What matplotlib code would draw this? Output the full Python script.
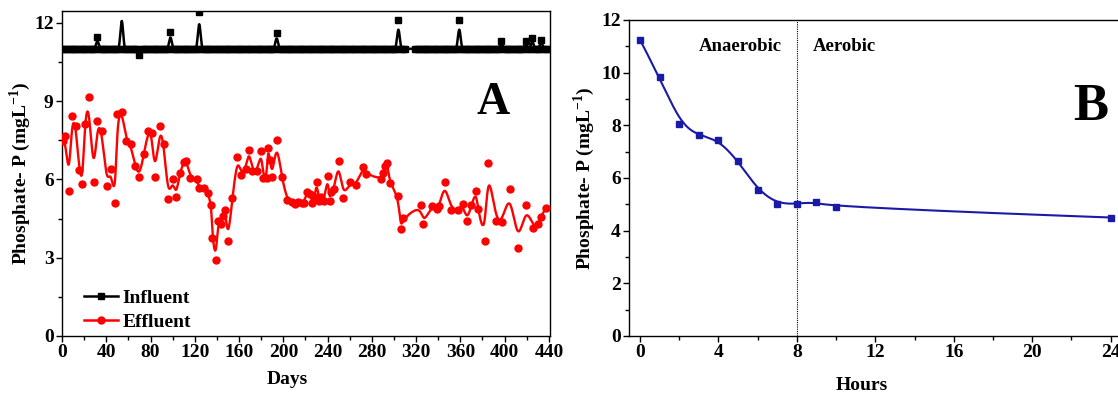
import numpy as np
import matplotlib
matplotlib.use("Agg")
import matplotlib.pyplot as plt
from matplotlib.ticker import MultipleLocator

plt.rcParams["font.family"] = ["Liberation Serif", "DejaVu Serif"]
plt.rcParams["font.weight"] = "bold"
plt.rcParams["mathtext.fontset"] = "custom"
plt.rcParams["mathtext.rm"] = "Liberation Serif:bold"
plt.rcParams["mathtext.bf"] = "Liberation Serif:bold"

# ---- Panel A: influent (sampling days, flat at 11.0 except the marked days) ----
influent_days = list(range(0, 311, 2)) + list(range(319, 440, 2))
influent_base = 11.0
influent_peak_days = [32, 54, 70, 98, 124, 194, 304, 359, 397, 419, 425, 433]
influent_peak_vals = [11.44, 12.6, 10.75, 11.65, 12.41, 11.6, 12.1, 12.1, 11.3, 11.3, 11.4, 11.35]

# ---- Panel A: effluent ----
effluent_days = [0.5, 3, 6, 9, 12.5, 15.5, 18.5, 20.5, 24, 28.5, 32, 36, 40.5, 44, 48, 50,
                 54.5, 58, 62, 66, 70, 74, 78, 81, 84, 88.5, 92, 96, 100, 103, 106.5, 110,
                 112.5, 116, 122, 124, 128, 132, 135, 136, 139, 141, 144, 145.5, 147.5, 150,
                 154, 158.5, 162, 166, 169, 172, 176.5, 180, 182, 185, 186, 188, 190, 194,
                 198.5, 203.5, 207.5, 210.5, 213.5, 216.5, 218.5, 221.5, 224, 226, 228.5, 230,
                 232.5, 234.5, 237, 240, 242, 243, 246, 250, 254, 260, 266, 272, 275, 288,
                 290, 292, 294, 296, 304, 306, 308.5, 324, 326.5, 334, 338.5, 341, 346, 351.5,
                 358, 362, 366, 370, 374, 376, 382, 385, 392, 398, 405, 412, 419, 426, 430.5,
                 432.5, 437]
effluent_vals = [7.45, 7.65, 5.56, 8.44, 8.06, 6.35, 5.81, 8.11, 9.17, 5.91, 8.22, 7.87, 5.75,
                 6.41, 5.08, 8.49, 8.58, 7.48, 7.35, 6.51, 6.10, 6.99, 7.84, 7.77, 6.10, 8.03,
                 7.35, 5.26, 6.00, 5.34, 6.25, 6.66, 6.72, 6.05, 6.00, 5.65, 5.66, 5.46, 5.01,
                 3.75, 2.90, 4.42, 4.29, 4.58, 4.84, 3.62, 5.30, 6.86, 6.17, 6.41, 7.14, 6.32,
                 6.32, 7.08, 6.06, 6.06, 7.22, 6.76, 6.09, 7.49, 6.09, 5.21, 5.14, 5.05, 5.14,
                 5.11, 5.11, 5.52, 5.43, 5.11, 5.34, 5.90, 5.18, 5.34, 5.18, 6.13, 5.18, 5.52,
                 5.62, 6.72, 5.30, 5.88, 5.77, 6.48, 6.21, 6.00, 6.23, 6.53, 6.63, 5.85, 5.37,
                 4.08, 4.51, 5.03, 4.28, 4.99, 4.86, 4.99, 5.88, 4.84, 4.84, 5.05, 4.42, 5.01,
                 5.54, 4.86, 3.65, 6.62, 4.39, 4.38, 5.62, 3.37, 5.01, 4.14, 4.28, 4.55, 4.89]

# ---- Panel B: one cycle ----
hours = [0, 1, 2, 3, 4, 5, 6, 7, 8, 9, 10, 24]
cycle_vals = [11.25, 9.82, 8.05, 7.62, 7.45, 6.65, 5.55, 5.02, 5.02, 5.10, 4.88, 4.50]

assert len(effluent_days) == len(effluent_vals)


def bspline(x, y, num=3000):
    """Clamped cubic B-spline using the points as control points (Origin style)."""
    P = np.column_stack([x, y]).astype(float)
    n, k = len(P), 3
    t = np.concatenate([np.zeros(k), np.arange(n - k + 1), np.full(k, n - k)])
    u = np.linspace(0, n - k, num)
    u[-1] -= 1e-9
    N = np.zeros((num, len(t) - 1))
    for i in range(len(t) - 1):
        N[:, i] = (t[i] <= u) & (u < t[i + 1])
    for d in range(1, k + 1):
        Nn = np.zeros((num, len(t) - 1 - d))
        for i in range(len(t) - 1 - d):
            acc = np.zeros(num)
            den1 = t[i + d] - t[i]
            if den1 > 0:
                acc += (u - t[i]) / den1 * N[:, i]
            den2 = t[i + d + 1] - t[i + 1]
            if den2 > 0:
                acc += (t[i + d + 1] - u) / den2 * N[:, i + 1]
            Nn[:, i] = acc
        N = Nn
    C = N @ P
    return C[:, 0], C[:, 1]


peaks = dict(zip(influent_peak_days, influent_peak_vals))
influent_vals = [peaks.get(d, influent_base) for d in influent_days]

W, H = 1118, 396
fig = plt.figure(figsize=(W / 100, H / 100), dpi=100)
# axes placed in pixel terms: left, bottom(from top), width, height
axA = fig.add_axes([62 / W, (H - 336) / H, 488 / W, 325.3 / H])
axB = fig.add_axes([629 / W, (H - 336) / H, 511 / W, 316 / H])

FS = 14
RED = "#ff0000"
BLUE = "#1a1aa8"

# panel A
xs, ys = bspline(influent_days, influent_vals, 6000)
axA.plot(xs, ys, color="black", lw=1.8, zorder=2)
axA.plot(influent_days, influent_vals, ls="none", marker="s", ms=5, color="black", zorder=3)
xs, ys = bspline(effluent_days, effluent_vals, 4000)
axA.plot(xs, ys, color=RED, lw=1.7, zorder=2)
axA.plot(effluent_days, effluent_vals, ls="none", marker="o", ms=5, color=RED, zorder=3)

axA.plot([], [], color="black", lw=1.8, marker="s", ms=4, label="Influent")
axA.plot([], [], color=RED, lw=1.8, marker="o", ms=5, label="Effluent")
axA.legend(loc="lower left", bbox_to_anchor=(0.045, 0.015), frameon=False,
           prop={"size": FS, "weight": "bold"}, handlelength=1.75,
           handletextpad=0.25, labelspacing=0.35, borderpad=0, borderaxespad=0)

axA.set_xlim(0, 441)
axA.set_ylim(0, 12.46)
axA.xaxis.set_major_locator(MultipleLocator(40))
axA.xaxis.set_minor_locator(MultipleLocator(20))
axA.yaxis.set_major_locator(MultipleLocator(3))
axA.yaxis.set_minor_locator(MultipleLocator(1.5))
axA.set_xlabel("Days", fontsize=FS, fontweight="bold")
axA.set_ylabel(r"Phosphate- P (mgL$^{-1}$)", fontsize=FS, fontweight="bold")
axA.xaxis.set_label_coords((287 - 62) / 488, (336 - 371) / 325.3)
axA.yaxis.set_label_coords((33 - 62) / 488, 0.5)
axA.text(389.5, 8.93, "A", fontsize=33, fontweight="bold", ha="center", va="center")

# panel B
xs, ys = bspline(hours, cycle_vals, 2000)
axB.plot(xs, ys, color=BLUE, lw=1.5, zorder=2)
axB.plot(hours, cycle_vals, ls="none", marker="s", ms=4, color=BLUE, zorder=3)
axB.axvline(8, color="black", lw=0.8, ls=(0, (1, 1)), zorder=1)
axB.text(3.0, 11.0, "Anaerobic", fontsize=13.5, fontweight="bold", va="center")
axB.text(8.83, 11.0, "Aerobic", fontsize=13.5, fontweight="bold", va="center")
axB.text(23.0, 8.7, "B", fontsize=38, fontweight="bold", ha="center", va="center")

axB.set_xlim(-0.56, 25.5)
axB.set_ylim(0, 12)
axB.xaxis.set_major_locator(MultipleLocator(4))
axB.xaxis.set_minor_locator(MultipleLocator(2))
axB.yaxis.set_major_locator(MultipleLocator(2))
axB.yaxis.set_minor_locator(MultipleLocator(1))
axB.set_xlabel("Hours", fontsize=FS, fontweight="bold")
axB.set_ylabel(r"Phosphate- P (mgL$^{-1}$)", fontsize=FS, fontweight="bold")
axB.xaxis.set_label_coords((862 - 629) / 511, (336 - 377) / 316)
axB.yaxis.set_label_coords((597 - 629) / 511, 0.5)

for ax in (axA, axB):
    ax.tick_params(which="both", direction="out", labelsize=FS, width=1.0, pad=2)
    ax.tick_params(which="major", length=4)
    ax.tick_params(which="minor", length=3)
    for lab in ax.get_xticklabels() + ax.get_yticklabels():
        lab.set_fontweight("bold")
    for s in ax.spines.values():
        s.set_linewidth(1.0)

fig.savefig("out.png", dpi=100)
